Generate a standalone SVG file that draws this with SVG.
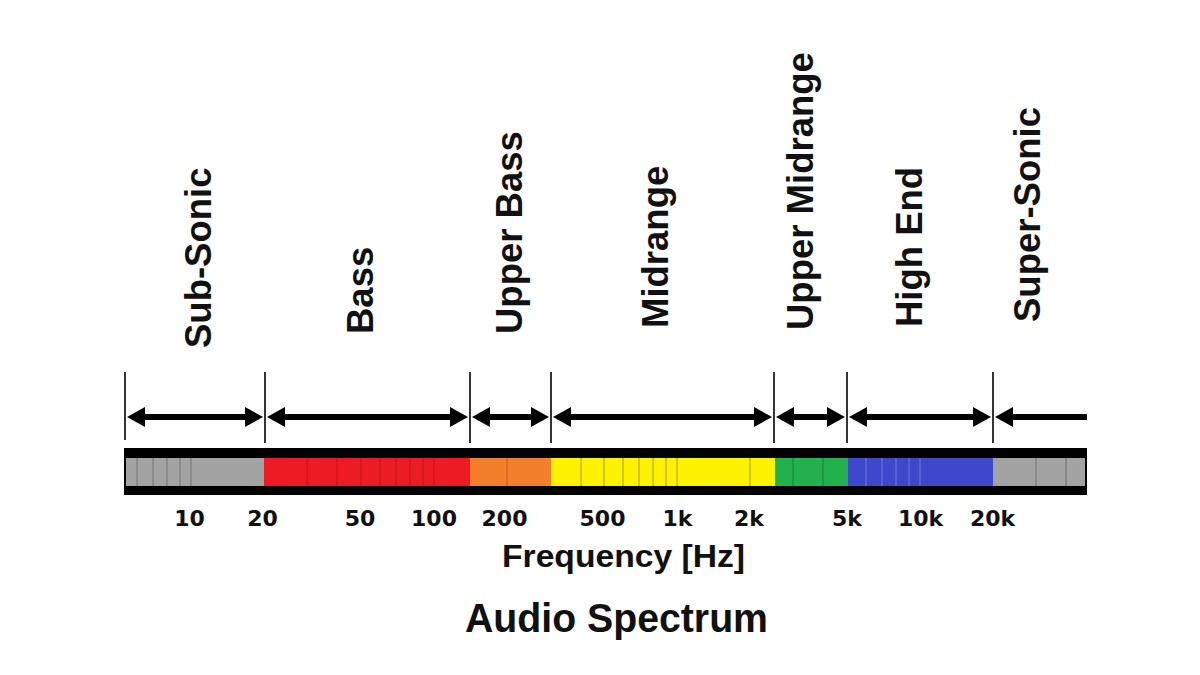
<svg xmlns="http://www.w3.org/2000/svg" width="1200" height="675" viewBox="0 0 1200 675">
<defs>
<style>
.band{font-family:"Liberation Sans",Arial,sans-serif;font-weight:bold;font-size:36.5px;fill:#111}
.tick{font-family:"DejaVu Sans",Verdana,sans-serif;font-weight:bold;font-size:22px;fill:#111;text-anchor:middle}
.axis{font-family:"Liberation Sans",Arial,sans-serif;font-weight:bold;fill:#111;text-anchor:middle}
.bound{stroke:#000;stroke-width:1.6}
.arr{stroke:#000;stroke-width:6;fill:none}
</style>
<marker id="ah" markerUnits="userSpaceOnUse" markerWidth="18" markerHeight="20" refX="8" refY="10" orient="auto-start-reverse" viewBox="0 0 18 20">
<path d="M0,0 L18,10 L0,20 Z" fill="#000"/>
</marker>
</defs>
<rect width="1200" height="675" fill="#fff"/>

<g id="band-labels">
<text id="lbl-subsonic" class="band" transform="translate(211,348) rotate(-90)">Sub-Sonic</text>
<text id="lbl-bass" class="band" transform="translate(373,334) rotate(-90)">Bass</text>
<text id="lbl-upperbass" class="band" transform="translate(522,334) rotate(-90)">Upper Bass</text>
<text id="lbl-midrange" class="band" transform="translate(668,328) rotate(-90)">Midrange</text>
<text id="lbl-uppermid" class="band" transform="translate(813,330) rotate(-90)">Upper Midrange</text>
<text id="lbl-highend" class="band" transform="translate(922,327) rotate(-90)">High End</text>
<text id="lbl-supersonic" class="band" transform="translate(1040,322) rotate(-90)">Super-Sonic</text>
</g>

<g id="connectors">
<line class="bound" x1="125" y1="372" x2="125" y2="440"/>
<line class="bound" x1="265" y1="372" x2="265" y2="443"/>
<line class="bound" x1="470" y1="372" x2="470" y2="443"/>
<line class="bound" x1="551" y1="372" x2="551" y2="443"/>
<line class="bound" x1="774" y1="372" x2="774" y2="443"/>
<line class="bound" x1="847" y1="372" x2="847" y2="443"/>
<line class="bound" x1="993" y1="372" x2="993" y2="443"/>
<line class="arr" x1="137" y1="417" x2="253" y2="417" marker-start="url(#ah)" marker-end="url(#ah)"/>
<line class="arr" x1="277" y1="417" x2="458" y2="417" marker-start="url(#ah)" marker-end="url(#ah)"/>
<line class="arr" x1="482" y1="417" x2="539" y2="417" marker-start="url(#ah)" marker-end="url(#ah)"/>
<line class="arr" x1="563" y1="417" x2="762" y2="417" marker-start="url(#ah)" marker-end="url(#ah)"/>
<line class="arr" x1="786" y1="417" x2="835" y2="417" marker-start="url(#ah)" marker-end="url(#ah)"/>
<line class="arr" x1="859" y1="417" x2="981" y2="417" marker-start="url(#ah)" marker-end="url(#ah)"/>
<line class="arr" x1="1005" y1="417" x2="1087" y2="417" marker-start="url(#ah)"/>
</g>

<g id="spectrum-bar">
<rect x="124" y="448" width="963" height="47" fill="#000"/>
<rect x="126" y="458" width="138" height="28" fill="#a3a3a3"/>
<rect x="264" y="458" width="206" height="28" fill="#ed1c24"/>
<rect x="470" y="458" width="81" height="28" fill="#f47f2a"/>
<rect x="551" y="458" width="224" height="28" fill="#fff200"/>
<rect x="775" y="458" width="73" height="28" fill="#22b14c"/>
<rect x="848" y="458" width="145" height="28" fill="#3f48cc"/>
<rect x="993" y="458" width="92" height="28" fill="#a3a3a3"/>
<g stroke-width="1.2">
<path stroke="#7a7a7a" d="M137,458V486M153,458V486M167,458V486M180,458V486M191,458V486M1036,458V486M1066,458V486"/>
<path stroke="#c8161d" d="M307,458V486M337,458V486M361,458V486M380,458V486M396,458V486M410,458V486M423,458V486M434,458V486"/>
<path stroke="#c96720" d="M507,458V486"/>
<path stroke="#b5a700" d="M581,458V486M604,458V486M623,458V486M639,458V486M653,458V486M666,458V486M677,458V486M750,458V486"/>
<path stroke="#198a3a" d="M793,458V486M823,458V486"/>
<path stroke="#6a71dc" d="M866,458V486M882,458V486M896,458V486M909,458V486M920,458V486"/>
</g>
</g>

<g id="tick-labels">
<text class="tick" x="189.5" y="526">10</text>
<text class="tick" x="262.5" y="526">20</text>
<text class="tick" x="360" y="526">50</text>
<text class="tick" x="434" y="526">100</text>
<text class="tick" x="504.5" y="526">200</text>
<text class="tick" x="602.5" y="526">500</text>
<text class="tick" x="677.5" y="526">1k</text>
<text class="tick" x="749" y="526">2k</text>
<text class="tick" x="847" y="526">5k</text>
<text class="tick" x="920.5" y="526">10k</text>
<text class="tick" x="992.5" y="526">20k</text>
</g>

<g id="axis-title">
<text class="axis" x="623.5" y="567" font-size="32" textLength="243" lengthAdjust="spacingAndGlyphs">Frequency [Hz]</text>
</g>
<g id="title">
<text class="axis" x="616.5" y="632" font-size="41" textLength="303" lengthAdjust="spacingAndGlyphs">Audio Spectrum</text>
</g>
</svg>
